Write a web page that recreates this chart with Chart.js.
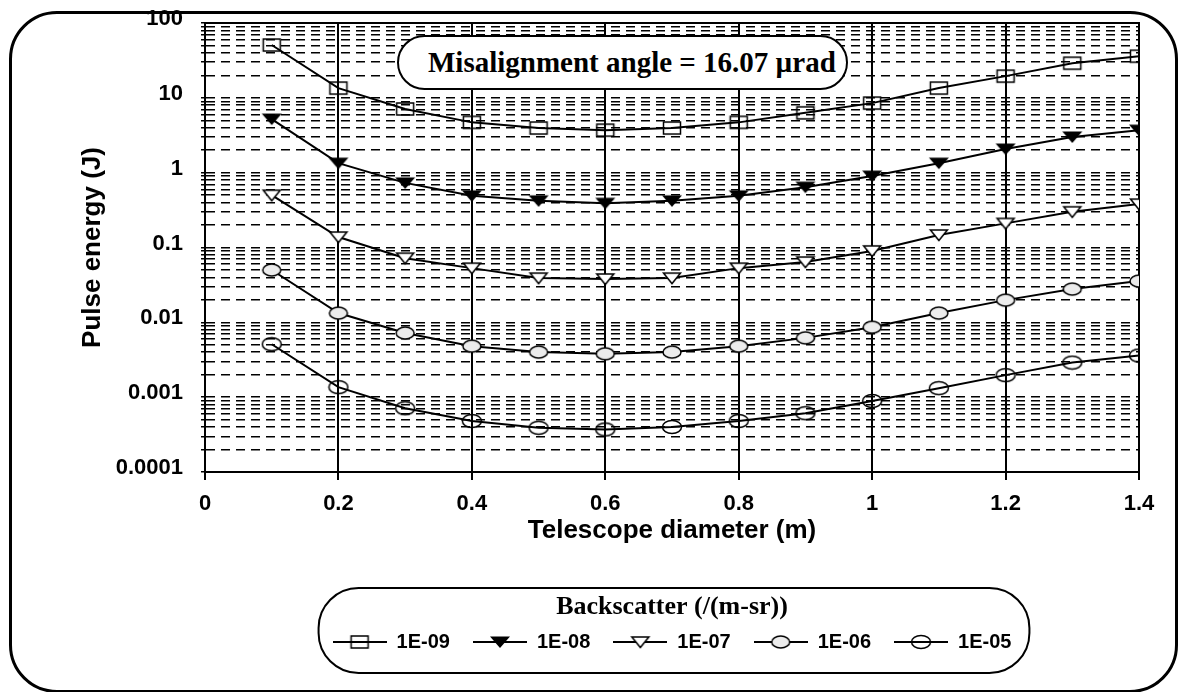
<!DOCTYPE html>
<html><head><meta charset="utf-8">
<script src="https://cdn.jsdelivr.net/npm/chart.js@4.4.0/dist/chart.umd.min.js"></script>
<style>
html,body{margin:0;padding:0;background:#fff;}
#wrap{position:relative;width:1184px;height:692px;overflow:hidden;}
#frame{position:absolute;left:9px;top:11px;width:1169px;height:682px;box-sizing:border-box;border:3px solid #000;border-radius:48px;}
#c{position:absolute;left:0;top:0;}
#note{position:absolute;left:397px;top:35px;width:451px;height:55px;box-sizing:border-box;border:2px solid #000;border-radius:28px;background:#fff;font:bold 29px "Liberation Serif",serif;line-height:51px;padding-left:29px;white-space:nowrap;color:#000;}
</style></head><body>
<div id="wrap"><div id="frame"></div><canvas id="c" width="1184" height="692"></canvas><div id="note">Misalignment angle = 16.07 µrad</div></div>
<script>
// ---- data ----
const diameters = [0.1, 0.2, 0.3, 0.4, 0.5, 0.6, 0.7, 0.8, 0.9, 1.0, 1.1, 1.2, 1.3, 1.4];
const seriesLabels = ['1E-09', '1E-08', '1E-07', '1E-06', '1E-05'];
const energy1e9 = [50.8, 13.5, 7.1, 4.7, 3.95, 3.7, 3.95, 4.7, 6.3, 8.5, 13.5, 19.5, 29, 36];
const energy1e8 = [5.2, 1.34, 0.73, 0.49, 0.42, 0.39, 0.42, 0.49, 0.64, 0.90, 1.34, 2.07, 3.0, 3.7];
const energy1e7 = [0.50, 0.138, 0.072, 0.053, 0.039, 0.038, 0.039, 0.053, 0.064, 0.09, 0.147, 0.21, 0.30, 0.38];
const energy1e6 = [0.050, 0.0133, 0.0072, 0.0048, 0.0040, 0.0038, 0.0040, 0.0048, 0.0062, 0.0086, 0.0133, 0.0198, 0.0278, 0.0356];
const energy1e5 = [0.0051, 0.00136, 0.00071, 0.00048, 0.00039, 0.00037, 0.0004, 0.00048, 0.00061, 0.00089, 0.00132, 0.00197, 0.0029, 0.0036];
const xTickValues = [0, 0.2, 0.4, 0.6, 0.8, 1.0, 1.2, 1.4];
const xTickLabels = ['0', '0.2', '0.4', '0.6', '0.8', '1', '1.2', '1.4'];
const yDecades = [0.0001, 0.001, 0.01, 0.1, 1, 10, 100];
const yTickLabels = ['0.0001', '0.001', '0.01', '0.1', '1', '10', '100'];
const xTitle = 'Telescope diameter (m)';
const yTitle = 'Pulse energy (J)';
const legendTitle = 'Backscatter (/(m-sr))';

const seriesValues = [energy1e9, energy1e8, energy1e7, energy1e6, energy1e5];
const markerKinds = ['square', 'triFill', 'triOpen', 'circFill', 'circOpen'];

const SANS = '"Liberation Sans", Arial, sans-serif';
const SERIF = '"Liberation Serif", "Times New Roman", serif';

// y ticks: decades labelled, 2..9 minor gridlines
const yTicks = [];
for (let d = 0; d < yDecades.length - 1; d++) {
  for (let k = 1; k <= 9; k++) {
    yTicks.push({ value: k === 1 ? yDecades[d] : k * yDecades[d], lbl: k === 1 ? yTickLabels[d] : '' });
  }
}
yTicks.push({ value: yDecades[yDecades.length - 1], lbl: yTickLabels[yTickLabels.length - 1] });
const xTicks = xTickValues.map((v, i) => ({ value: v, lbl: xTickLabels[i] }));

// ---- markers ----
const markerDrawers = {
  square: (g, cx, cy) => { g.lineWidth = 1.5; g.strokeStyle = '#000'; g.strokeRect(cx - 8.5, cy - 6, 17, 12); },
  triFill: (g, cx, cy) => { g.fillStyle = '#000'; g.beginPath(); g.moveTo(cx - 10, cy - 5.5); g.lineTo(cx + 10, cy - 5.5); g.lineTo(cx, cy + 6); g.closePath(); g.fill(); },
  triOpen: (g, cx, cy) => { g.fillStyle = '#fff'; g.strokeStyle = '#000'; g.lineWidth = 1.5; g.beginPath(); g.moveTo(cx - 8.5, cy - 5); g.lineTo(cx + 8.5, cy - 5); g.lineTo(cx, cy + 5.5); g.closePath(); g.fill(); g.stroke(); },
  circFill: (g, cx, cy) => { g.fillStyle = '#ececec'; g.strokeStyle = '#000'; g.lineWidth = 1.5; g.beginPath(); g.ellipse(cx, cy, 9, 6, 0, 0, Math.PI * 2); g.fill(); g.stroke(); },
  circOpen: (g, cx, cy) => { g.strokeStyle = '#000'; g.lineWidth = 1.5; g.beginPath(); g.ellipse(cx, cy, 9.5, 6.5, 0, 0, Math.PI * 2); g.stroke(); }
};
function makeMarker(kind) {
  const c = document.createElement('canvas'); c.width = 22; c.height = 16;
  markerDrawers[kind](c.getContext('2d'), 11, 8); return c;
}
function makeLegendIcon(kind) {
  const c = document.createElement('canvas'); c.width = 54; c.height = 16;
  const g = c.getContext('2d'); g.strokeStyle = '#000'; g.lineWidth = 2;
  g.beginPath(); g.moveTo(0, 8); g.lineTo(54, 8); g.stroke();
  markerDrawers[kind](g, 27, 8); return c;
}
const legendIcons = markerKinds.map(makeLegendIcon);

function roundRectPath(ctx, x, y, w, h, r) {
  ctx.beginPath();
  ctx.moveTo(x + r, y); ctx.lineTo(x + w - r, y);
  ctx.arcTo(x + w, y, x + w, y + r, r); ctx.lineTo(x + w, y + h - r);
  ctx.arcTo(x + w, y + h, x + w - r, y + h, r); ctx.lineTo(x + r, y + h);
  ctx.arcTo(x, y + h, x, y + h - r, r); ctx.lineTo(x, y + r);
  ctx.arcTo(x, y, x + r, y, r); ctx.closePath();
}

const framePlugin = {
  id: 'frame',
  beforeDatasetsDraw(chart) {
    const { ctx, chartArea: a } = chart;
    ctx.save(); ctx.strokeStyle = '#000'; ctx.lineWidth = 2;
    ctx.beginPath(); ctx.moveTo(a.left - 1, a.top); ctx.lineTo(a.right, a.top); ctx.lineTo(a.right, a.bottom); ctx.stroke();
    ctx.restore();
  },
  afterDraw(chart) {
    const lg = chart.legend; const hb = lg && lg.legendHitBoxes;
    if (!hb || !hb.length) return;
    const ctx = chart.ctx;
    const left = hb[0].left - 14;
    const right = hb[hb.length - 1].left + hb[hb.length - 1].width + 18;
    const cy = hb[0].top + hb[0].height / 2;
    ctx.save(); ctx.strokeStyle = '#000'; ctx.lineWidth = 2;
    roundRectPath(ctx, left, cy - 54, right - left, 85, 40); ctx.stroke();
    ctx.restore();
  }
};

new Chart(document.getElementById('c'), {
  type: 'line',
  data: {
    datasets: seriesLabels.map((lab, s) => ({
      label: lab,
      data: diameters.map((x, i) => ({ x, y: seriesValues[s][i] })),
      borderColor: '#000', backgroundColor: '#000', borderWidth: 2,
      pointStyle: makeMarker(markerKinds[s]), pointRadius: 6, pointHoverRadius: 6,
      fill: false, tension: 0
    }))
  },
  options: {
    responsive: false, animation: false, devicePixelRatio: 1,
    layout: { padding: { left: 0, right: 45, top: 23, bottom: 30 } },
    events: [],
    plugins: {
      tooltip: { enabled: false },
      legend: {
        position: 'bottom', fullSize: false,
        labels: {
          usePointStyle: true, pointStyleWidth: 54, padding: 23, color: '#000',
          font: { family: SANS, size: 20, weight: 'bold' },
          generateLabels: (chart) => chart.data.datasets.map((ds, i) => ({
            text: ds.label, pointStyle: legendIcons[i], fillStyle: '#000', strokeStyle: '#000',
            lineWidth: 0, hidden: false, datasetIndex: i, fontColor: '#000'
          }))
        },
        title: { display: true, text: legendTitle, color: '#000',
          font: { family: SERIF, size: 26, weight: 'bold', lineHeight: 1.2 },
          padding: { top: 4, bottom: -16.6 } }
      }
    },
    scales: {
      x: {
        type: 'linear', position: 'bottom', min: 0, max: 1.4,
        afterBuildTicks: s => { s.ticks = xTicks.map(t => ({ ...t })); },
        afterFit: s => { s.height = 118.4; },
        ticks: { autoSkip: false, padding: 10.8, color: '#000', font: { family: SANS, size: 22, weight: 'bold' },
          callback: (v, i, t) => t[i].lbl },
        grid: { color: '#000', lineWidth: 2, tickLength: 8, tickColor: '#000', tickWidth: 2 },
        border: { display: true, color: '#000', width: 2 },
        title: { display: true, text: xTitle, color: '#000', font: { family: SANS, size: 26, weight: 'bold' },
          padding: { top: 0, bottom: 43.8 } }
      },
      y: {
        type: 'logarithmic', position: 'left', min: yDecades[0], max: yDecades[yDecades.length - 1],
        afterBuildTicks: s => { s.ticks = yTicks.map(t => ({ ...t })); },
        afterFit: s => { s.width = 205; s.paddingTop = 10; s.paddingBottom = 10; },
        ticks: { autoSkip: false, padding: 18, labelOffset: -4, color: '#000',
          font: { family: SANS, size: 22, weight: 'bold' }, callback: (v, i, t) => t[i].lbl },
        grid: { color: '#000', lineWidth: 1.5, tickLength: 4, tickColor: '#000', tickWidth: 1.5 },
        border: { display: true, color: '#000', width: 2, dash: [9, 6] },
        title: { display: true, text: yTitle, color: '#000', font: { family: SANS, size: 26, weight: 'bold' },
          padding: { top: 77.4, bottom: 0 } }
      }
    }
  },
  plugins: [framePlugin]
});
</script>
</body></html>
